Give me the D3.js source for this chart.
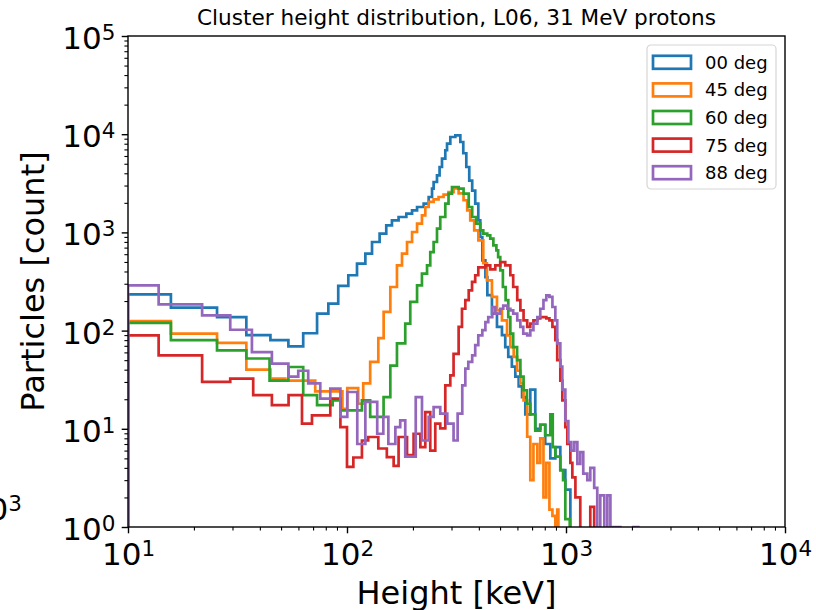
<!DOCTYPE html>
<html>
<head>
<meta charset="utf-8">
<script src="https://cdn.jsdelivr.net/npm/d3@7"></script>
<style>
body { margin: 0; background: #fff; }
svg { font-family: "DejaVu Sans", sans-serif; }
</style>
</head>
<body>
<svg id="chart" width="816" height="610"></svg>
<script>
// legend names + tab10 colours
var seriesNames = ["00 deg", "45 deg", "60 deg", "75 deg", "88 deg"];
var seriesColors = ["#1f77b4", "#ff7f0e", "#2ca02c", "#d62728", "#9467bd"];

// histogram bins: [left edge keV, count]; last entry is the right edge of the last bin
var deg00 = [[10,234],[15.7,171],[25.5,137],[34.7,90],[44.7,80],[54,69],[63.1,94],[73,149],[82.2,188],[91.2,285],[101.4,366],[111.1,481],[121.3,608],[130.1,798],[140.9,972],[151.1,1181],[160.4,1328],[172,1435],[186.6,1554],[198.2,1679],[208.9,1815],[223.9,1964],[236,2293],[244.5,2792],[248.6,3260],[257.6,3815],[264.7,4633],[271.5,5644],[281.1,6860],[286.3,8020],[296.3,9360],[312.4,9740],[329.2,8330],[339.6,6400],[350.6,4633],[361.6,3365],[373,2660],[385.1,1964],[397.7,1328],[406,898],[414.9,520],[428.5,351],[437.4,230],[459,149],[484,109],[510,90],[528,68],[545,54],[566,43],[587,34],[608,27],[630,21],[652,14],[687,25],[724,10],[763,11],[804,7],[848,5],[894,6.5],[942,3.8],[993,2.4],[1047,0]];

var deg45 = [[10,125],[15.7,93],[25.5,75],[34.7,40],[44.7,32.5],[52.3,31],[71.6,24],[95.3,16],[100.3,26],[112.5,18],[118.6,29],[127.6,48],[139,84],[147,155],[157.7,278],[169.1,462],[178.3,608],[188,798],[198.2,1010],[208.9,1230],[219.9,1493],[227.8,1815],[236,2042],[248.6,2173],[261.9,2293],[276,2425],[290.8,2577],[306.6,2800],[323.4,2500],[340.6,2124],[354,1679],[365.4,1328],[381,1050],[398,830],[419,485],[435.5,325],[459,220],[484,161],[510,127],[538,89.5],[557,68],[577,54],[598,39],[619,29],[640,19.5],[665,8.3],[687,3],[710,7],[740,4.5],[763,8],[789,2],[813,4.5],[840,1.5],[867,1.3],[894,0],[912,1.5],[923,0]];

var deg60 = [[10,120],[15.7,80],[25.5,63],[34.7,52],[44.3,31],[54,42.6],[63.1,22],[73,17.4],[86,19.5],[93.3,15.4],[117,19.5],[127.6,13.2],[146.9,21],[157.7,44],[169.1,74],[184.5,118],[194.5,196],[208.9,289],[219.9,380],[232,462],[240,631],[248.6,798],[257.6,1093],[266.6,1435],[281.1,1964],[290.8,2483],[301.6,2900],[323.4,2792],[340.6,2483],[359.6,1815],[373,1435],[389,1230],[406,1050],[419,972],[437,934],[451,865],[466,739],[481,657],[490,561],[501,411],[515,278],[530,204],[545,137],[557,93],[574,68],[598,50],[619,34],[640,24.7],[663,18],[687,14],[724,9.6],[763,11],[804,8.6],[848,14],[870,6.5],[894,5.2],[942,3.8],[970,3],[993,1.2],[1040,0]];

var deg75 = [[10,89.5],[13.8,56],[21.8,30],[29.3,32.5],[37.3,22],[45.4,17.4],[54.1,22],[62.3,11.3],[69.2,13.7],[83.9,20.3],[93.3,10.4],[100,4.1],[106.9,5.1],[117,7.6],[125,8.25],[139,6.3],[152,5.15],[163.3,4.2],[172,8.25],[188,5.4],[201.4,8.9],[216.3,6.5],[227.8,14.8],[240,6],[253,11.3],[266.6,10.1],[281.1,27.7],[296.3,35],[306.6,58],[323.4,109],[335,167],[347,204],[359.6,257],[372.4,313],[385,366],[397.7,440],[428.5,462],[451,420],[475.4,462],[501,497],[528,462],[557,366],[574,278],[599,204],[619,161],[640,127],[665,109],[687,118],[710,127],[740,133],[763,137],[789,137],[813,133],[840,127],[867,109],[894,80],[912,50],[942,31],[962,19.5],[993,10.4],[1014,7],[1047,4.5],[1069,3.2],[1104,2],[1162,0],[1291,1.6],[1345,0]];

var deg88 = [[10,289],[13.8,185],[21.8,143],[29.3,102],[36.8,60.5],[45.4,46],[54,34],[59.9,39],[66.5,29],[75.5,20.3],[83.9,25.7],[93.3,13.2],[100.3,23.7],[111.4,7],[121.3,18.8],[137.4,8.9],[146.5,13.2],[154.5,7],[166.3,10.4],[175,12.2],[184.5,5.2],[206,21],[220,7.6],[236,13.2],[248.6,16.6],[266.6,14.3],[287,11.3],[306.6,7.6],[320,14.3],[336,27.7],[347,41],[358,48],[373,56],[385,71],[397.7,89.5],[414.9,101],[428.5,122],[441.6,137],[460.6,174],[475.4,149],[501,167],[517,180],[540,167],[557,161],[574,149],[599,127],[619,109],[638,93],[665,89.5],[687,101],[710,118],[740,137],[763,167],[789,204],[813,228],[840,220],[867,174],[894,127],[912,74],[942,43],[962,25],[993,12],[1025,7.3],[1058,6],[1092,7.3],[1127,4.4],[1162,5.8],[1199,3.5],[1251,3],[1291,4],[1345,2.5],[1389,0],[1434,2.1],[1496,0],[1545,2.1],[1595,0],[1622,1],[1772,0],[2028,1],[2139,0]];

var allSeries = [deg00, deg45, deg60, deg75, deg88];

var xMajor = [10, 100, 1000, 10000];
var yMajor = [1, 10, 100, 1000, 10000, 100000];

var W = 816, H = 610;
var margin = {top: 36, right: 31, bottom: 83, left: 128};

var x = d3.scaleLog().domain([10, 10000]).range([margin.left, W - margin.right]);
var y = d3.scaleLog().domain([1, 1e5]).range([H - margin.bottom, margin.top]);

var svg = d3.select("#chart");

svg.append("defs").append("clipPath").attr("id", "plotclip")
    .append("rect")
    .attr("x", margin.left).attr("y", margin.top)
    .attr("width", W - margin.left - margin.right)
    .attr("height", H - margin.top - margin.bottom);

// minor ticks = log ticks that are not powers of ten
var isPow = function (v) { return Math.abs(Math.log10(v) - Math.round(Math.log10(v))) < 1e-6; };
var xMinor = x.ticks().filter(function (d) { return !isPow(d); });
var yMinor = y.ticks().filter(function (d) { return !isPow(d); });

function supLabel(sel, yPos, dy) {
    sel.selectAll(".tick text").each(function (d) {
        var t = d3.select(this).text(null)
            .attr("font-size", 31)
            .attr("font-family", "DejaVu Sans")
            .attr("fill", "#000");
        if (yPos !== null) t.attr("y", yPos).attr("dy", null);
        if (dy !== null) t.attr("dy", dy);
        t.append("tspan").text("10");
        t.append("tspan").attr("dy", "-0.41em").attr("font-size", 21.5).text(Math.round(Math.log10(d)));
    });
}

// x axis
var gxMinor = svg.append("g").attr("transform", "translate(0," + y.range()[0] + ")")
    .call(d3.axisBottom(x).tickValues(xMinor).tickSize(3.6).tickSizeOuter(0).tickFormat(""));
var gx = svg.append("g").attr("transform", "translate(0," + y.range()[0] + ")")
    .call(d3.axisBottom(x).tickValues(xMajor).tickSize(6.3).tickSizeOuter(0).tickPadding(6.3).tickFormat(""));
supLabel(gx, 38, null);

// y axis
var gyMinor = svg.append("g").attr("transform", "translate(" + x.range()[0] + ",0)")
    .call(d3.axisLeft(y).tickValues(yMinor).tickSize(3.6).tickSizeOuter(0).tickFormat(""));
var gy = svg.append("g").attr("transform", "translate(" + x.range()[0] + ",0)")
    .call(d3.axisLeft(y).tickValues(yMajor).tickSize(6.3).tickSizeOuter(0).tickPadding(6.3).tickFormat(""));
supLabel(gy, null, "0.4em");

[gxMinor, gyMinor].forEach(function (g) {
    g.select(".domain").remove();
    g.selectAll(".tick line").attr("stroke", "#000").attr("stroke-width", 1.1);
});
[gx, gy].forEach(function (g) {
    g.select(".domain").remove();
    g.selectAll(".tick line").attr("stroke", "#000").attr("stroke-width", 1.4);
});

// histogram step outlines
function stepPoints(bins) {
    var pts = [[bins[0][0], 0]];
    for (var i = 0; i < bins.length - 1; i++) {
        pts.push([bins[i][0], bins[i][1]]);
        pts.push([bins[i + 1][0], bins[i][1]]);
    }
    pts.push([bins[bins.length - 1][0], 0]);
    return pts;
}

var line = d3.line()
    .x(function (d) { return x(d[0]); })
    .y(function (d) { return d[1] > 0 ? y(d[1]) : y(0.1); });

svg.append("g").attr("clip-path", "url(#plotclip)")
    .selectAll("path")
    .data(allSeries)
    .enter()
    .append("path")
    .attr("d", function (d) { return line(stepPoints(d)); })
    .attr("fill", "none")
    .attr("stroke", function (d, i) { return seriesColors[i]; })
    .attr("stroke-width", 2.7)
    .attr("stroke-linejoin", "miter");

// frame
svg.append("rect")
    .attr("x", x.range()[0]).attr("y", y.range()[1])
    .attr("width", x.range()[1] - x.range()[0])
    .attr("height", y.range()[0] - y.range()[1])
    .attr("fill", "none").attr("stroke", "#000").attr("stroke-width", 1.4);

// title and axis labels
svg.append("text")
    .attr("x", (x.range()[0] + x.range()[1]) / 2).attr("y", 25)
    .attr("text-anchor", "middle").attr("font-size", 21.6)
    .text("Cluster height distribution, L06, 31 MeV protons");

svg.append("text")
    .attr("x", (x.range()[0] + x.range()[1]) / 2).attr("y", 604)
    .attr("text-anchor", "middle").attr("font-size", 32)
    .text("Height [keV]");

svg.append("text")
    .attr("transform", "translate(44," + ((y.range()[0] + y.range()[1]) / 2) + ") rotate(-90)")
    .attr("text-anchor", "middle").attr("font-size", 32)
    .text("Particles [count]");

// leftover label at the left edge
var stray = svg.append("text").attr("x", 22).attr("y", 520)
    .attr("text-anchor", "end").attr("font-size", 31);
stray.append("tspan").text("10");
stray.append("tspan").attr("dy", "-0.41em").attr("font-size", 21.5).text("3");

// legend
var legend = svg.append("g").attr("transform", "translate(647,45)");
legend.append("rect")
    .attr("width", 129).attr("height", 144).attr("rx", 4)
    .attr("fill", "#fff").attr("fill-opacity", 0.8)
    .attr("stroke", "#d6d6d6").attr("stroke-width", 1.2);

var item = legend.selectAll(".item")
    .data(seriesNames)
    .enter()
    .append("g")
    .attr("class", "item")
    .attr("transform", function (d, i) { return "translate(0," + (17.3 + i * 27.6) + ")"; });

item.append("rect")
    .attr("x", 6).attr("y", -6.5).attr("width", 38).attr("height", 13)
    .attr("fill", "none")
    .attr("stroke", function (d, i) { return seriesColors[i]; })
    .attr("stroke-width", 2.7);

item.append("text")
    .attr("x", 58).attr("y", 6.5)
    .attr("font-size", 18)
    .text(function (d) { return d; });
</script>
</body>
</html>
